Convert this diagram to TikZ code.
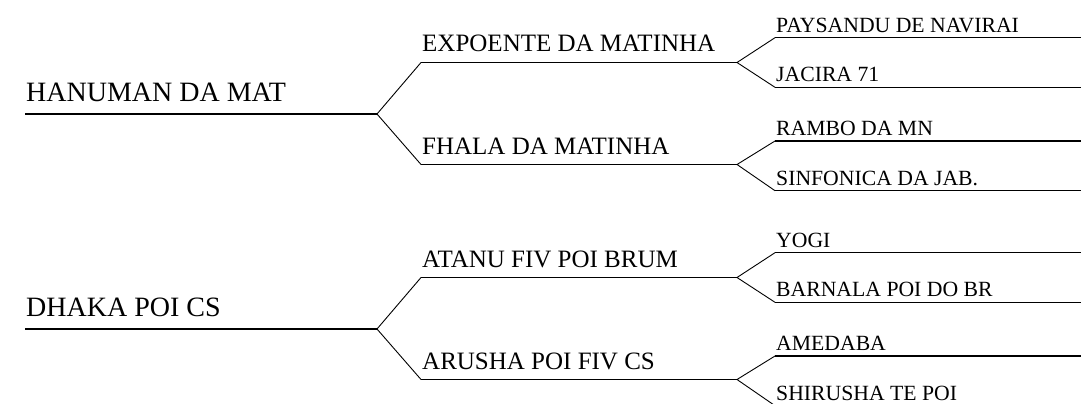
\documentclass[tikz,border=0pt]{standalone}
\usepackage{fontspec}
\setmainfont{Liberation Serif}
\usepackage{tikz}
\usetikzlibrary{
  positioning,
  calc
}

\begin{document}
\begin{tikzpicture}[
      x=1pt, y=-1pt,
      ger1/.style={font=\fontsize{28}{30}\selectfont, inner sep=0pt, anchor=base west},
      ger2/.style={font=\fontsize{25}{28}\selectfont, inner sep=0pt, anchor=base west},
      ger3/.style={font=\fontsize{21.7}{24}\selectfont, inner sep=0pt, anchor=base west},
      linha/.style={line width=1.4pt},
      linhafina/.style={line width=1.1pt},
      ramo/.style={line width=0.9pt}
  ]
      \clip (0,0) rectangle (1081,404);

      % Primeiro animal
      \coordinate (hanS) at (25,114);   \coordinate (hanE) at (377,114);
      \coordinate (expS) at (421,62.5); \coordinate (expE) at (737,62.5);
      \coordinate (fhaS) at (421,164.5);\coordinate (fhaE) at (737,164.5);
      \coordinate (payS) at (775,37.7); \coordinate (payE) at (1081,37.7);
      \coordinate (jacS) at (775,87.3); \coordinate (jacE) at (1081,87.3);
      \coordinate (ramS) at (775,141);  \coordinate (ramE) at (1081,141);
      \coordinate (sinS) at (775,190.7);\coordinate (sinE) at (1081,190.7);

      \node[ger1] (han) at ($(hanS)+(1,-13)$) {HANUMAN DA MAT};
      \node[ger2] (exp) at ($(expS)+(1,-10.5)$) {EXPOENTE DA MATINHA};
      \node[ger2] (fha) at ($(fhaS)+(1,-10.5)$) {FHALA DA MATINHA};
      \node[ger3] (pay) at ($(payS)+(1,-5.5)$) {PAYSANDU DE NAVIRAI};
      \node[ger3] (jac) at ($(jacS)+(1,-5.5)$) {JACIRA 71};
      \node[ger3] (ram) at ($(ramS)+(1,-5.5)$) {RAMBO DA MN};
      \node[ger3] (sin) at ($(sinS)+(1,-5.5)$) {SINFONICA DA JAB.};

      \draw[linha] (hanS)--(hanE);
      \draw[linha] (expS)--(expE);
      \draw[linha] (fhaS)--(fhaE);
      \draw[linhafina] (payS)--(payE);
      \draw[linhafina] (jacS)--(jacE);
      \draw[linhafina] (ramS)--(ramE);
      \draw[linhafina] (sinS)--(sinE);
      \draw[ramo] (expS)--(hanE)--(fhaS);
      \draw[ramo] (payS)--(expE)--(jacS);
      \draw[ramo] (ramS)--(fhaE)--(sinS);

      % Segundo animal
      \coordinate (dhaS) at (25,329);   \coordinate (dhaE) at (377,329);
      \coordinate (ataS) at (421,277.5);\coordinate (ataE) at (737,277.5);
      \coordinate (aruS) at (421,379.5);\coordinate (aruE) at (737,379.5);
      \coordinate (yogS) at (775,252.7);\coordinate (yogE) at (1081,252.7);
      \coordinate (barS) at (775,302.3);\coordinate (barE) at (1081,302.3);
      \coordinate (ameS) at (775,356);  \coordinate (ameE) at (1081,356);
      \coordinate (shiS) at (775,405.7);\coordinate (shiE) at (1081,405.7);

      \node[ger1] (dha) at ($(dhaS)+(1,-13)$) {DHAKA POI CS};
      \node[ger2] (ata) at ($(ataS)+(1,-10.5)$) {ATANU FIV POI BRUM};
      \node[ger2] (aru) at ($(aruS)+(1,-10.5)$) {ARUSHA POI FIV CS};
      \node[ger3] (yog) at ($(yogS)+(1,-5.5)$) {YOGI};
      \node[ger3] (bar) at ($(barS)+(1,-5.5)$) {BARNALA POI DO BR};
      \node[ger3] (ame) at ($(ameS)+(1,-5.5)$) {AMEDABA};
      \node[ger3] (shi) at ($(shiS)+(1,-5.5)$) {SHIRUSHA TE POI};

      \draw[linha] (dhaS)--(dhaE);
      \draw[linha] (ataS)--(ataE);
      \draw[linha] (aruS)--(aruE);
      \draw[linhafina] (yogS)--(yogE);
      \draw[linhafina] (barS)--(barE);
      \draw[linhafina] (ameS)--(ameE);
      \draw[linhafina] (shiS)--(shiE);
      \draw[ramo] (ataS)--(dhaE)--(aruS);
      \draw[ramo] (yogS)--(ataE)--(barS);
      \draw[ramo] (ameS)--(aruE)--(shiS);
  \end{tikzpicture}
\end{document}
